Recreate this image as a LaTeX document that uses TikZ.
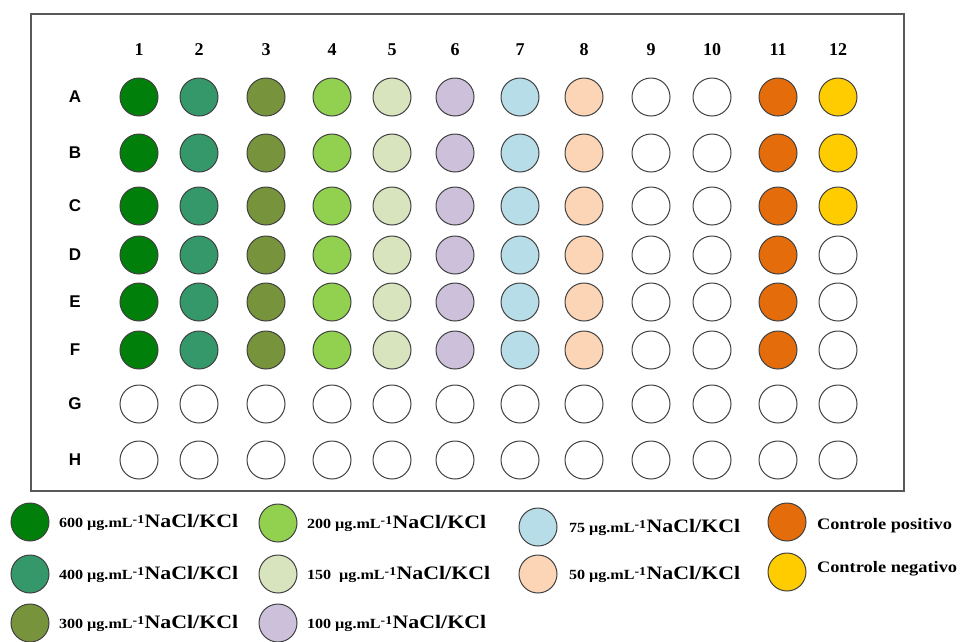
\documentclass[tikz,border=0pt]{standalone}
\usepackage{fontspec}
\setmainfont{Liberation Serif}
\newfontfamily\rowfont{Liberation Sans}
\newfontfamily\legfont{Liberation Serif}[FakeStretch=1.15]
\usetikzlibrary{positioning}
\definecolor{c600}{HTML}{00800A}
\definecolor{c400}{HTML}{35986A}
\definecolor{c300}{HTML}{77933C}
\definecolor{c200}{HTML}{92D050}
\definecolor{c150}{HTML}{D7E4BD}
\definecolor{c100}{HTML}{CCC0DA}
\definecolor{c75}{HTML}{B7DEE8}
\definecolor{c50}{HTML}{FBD5B5}
\definecolor{cpos}{HTML}{E46C0A}
\definecolor{cneg}{HTML}{FFCC00}
\newcommand{\conc}[1]{{\fontsize{14}{16}\selectfont #1 µg.mL}\textsuperscript{\fontsize{12}{12}\selectfont -1}{\fontsize{19}{20}\selectfont NaCl/KCl}}

\begin{document}
\begin{tikzpicture}[x=1pt, y=-1pt, line width=1pt,
      well/.style={circle, draw=black!75, fill=white, minimum size=38pt, inner sep=0pt},
      collbl/.style={font=\fontsize{18}{18}\selectfont\bfseries},
      rowlbl/.style={font=\rowfont\fontsize{17}{17}\selectfont\bfseries},
      leg/.style={anchor=west, inner sep=0pt, font=\legfont\bfseries}]
    \useasboundingbox (0,0) rectangle (964,641);
    \draw[black!65, line width=1.4pt] (31,14) rectangle (904,491);
    % column and row labels
    \foreach \c/\x in {1/139,2/199,3/266,4/332,5/392,6/455,7/520,8/584,9/651,10/712,11/778,12/838}
      \node[collbl] (n\c) at (\x,50) {\c};
    \foreach \r/\y in {A/97,B/153,C/206,D/255,E/302,F/350,G/404,H/460}
      \node[rowlbl] (r\r) at (75,\y) {\r};
    % wells
    \foreach \r/\y in {A/97,B/153,C/206,D/255,E/302,F/350}
      \foreach \c/\x/\f in {1/139/c600,2/199/c400,3/266/c300,4/332/c200,5/392/c150,6/455/c100,
                             7/520/c75,8/584/c50,9/651/white,10/712/white,11/778/cpos}
        \node[well, fill=\f] (w\r\c) at (\x,\y) {};
    \foreach \r/\y/\f in {A/97/cneg,B/153/cneg,C/206/cneg,D/255/white,E/302/white,F/350/white}
      \node[well, fill=\f] (w\r12) at (838,\y) {};
    \foreach \r/\y in {G/404,H/460}
      \foreach \c/\x in {1/139,2/199,3/266,4/332,5/392,6/455,7/520,8/584,9/651,10/712,11/778,12/838}
        \node[well] (w\r\c) at (\x,\y) {};
    % legend
    \node[well, fill=c600] (k600) at (30,522) {};
    \node[well, fill=c400] (k400) at (30,574) {};
    \node[well, fill=c300] (k300) at (30,623) {};
    \node[well, fill=c200] (k200) at (278,523) {};
    \node[well, fill=c150] (k150) at (278,574) {};
    \node[well, fill=c100] (k100) at (278,623) {};
    \node[well, fill=c75] (k75) at (538,527) {};
    \node[well, fill=c50] (k50) at (538,574) {};
    \node[well, fill=cpos] (kpos) at (787,522) {};
    \node[well, fill=cneg] (kneg) at (787,572) {};
    \node[leg, right=9pt of k600] (t600) {\conc{600}};
    \node[leg, right=9pt of k400] (t400) {\conc{400}};
    \node[leg, right=9pt of k300] (t300) {\conc{300}};
    \node[leg, right=9pt of k200] (t200) {\conc{200}};
    \node[leg, right=9pt of k150] (t150) {\conc{150\ }};
    \node[leg, right=9pt of k100] (t100) {\conc{100}};
    \node[leg, right=11pt of k75] (t75) {\conc{75}};
    \node[leg, right=11pt of k50] (t50) {\conc{50}};
    \node[leg, right=10pt of kpos, yshift=-4pt, font=\legfont\bfseries\fontsize{16}{16}\selectfont] (tpos) {Controle positivo};
    \node[leg, right=10pt of kneg, yshift=3pt, font=\legfont\bfseries\fontsize{16}{16}\selectfont] (tneg) {Controle negativo};
  \end{tikzpicture}
\end{document}
